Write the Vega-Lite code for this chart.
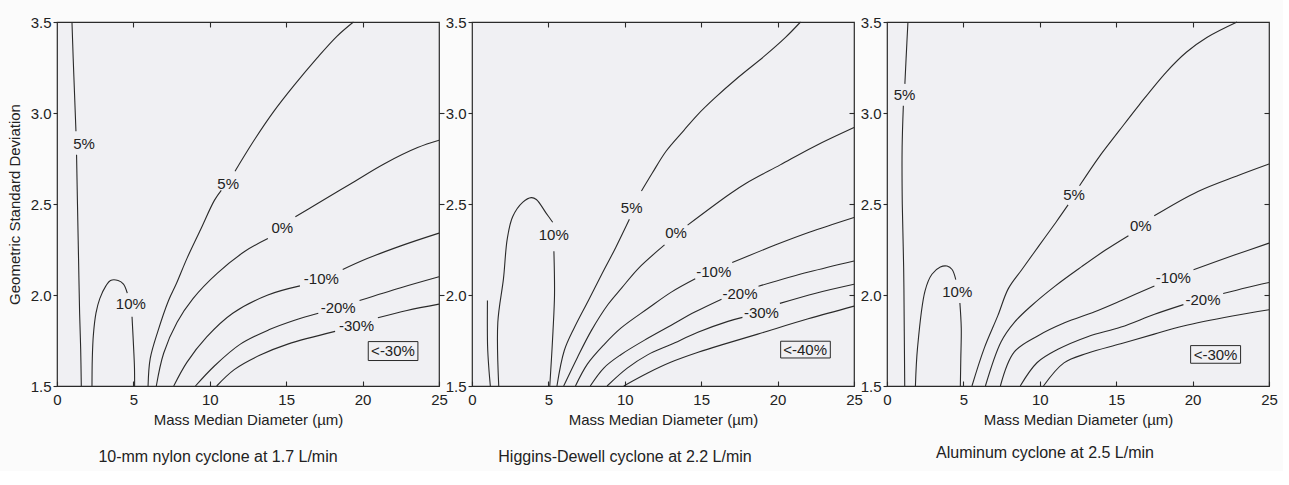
{
"$schema": "https://vega.github.io/schema/vega-lite/v6.json",
"background": "#fbfbfb",
"padding": {"left": 6, "top": 14, "right": 5, "bottom": 5},
"config": {
  "view": {"stroke": "#2a2a2a", "strokeWidth": 1.2, "fill": "#f0f0f3"},
  "font": "Liberation Sans",
  "axis": {"labelFont": "Liberation Sans", "titleFont": "Liberation Sans", "labelFontSize": 15, "titleFontSize": 15, "titleFontWeight": "normal", "labelColor": "#222", "titleColor": "#222", "tickColor": "#2a2a2a", "tickWidth": 1.1, "domain": false, "grid": false}
},
"datasets": {
"lines": [
{"p":1,"id":"5La","i":0,"x":0.98,"y":3.5},{"p":1,"id":"5La","i":1,"x":1.06,"y":3.3},{"p":1,"id":"5La","i":2,"x":1.15,"y":3.1},{"p":1,"id":"5La","i":3,"x":1.24,"y":2.9},
{"p":1,"id":"5Lb","i":0,"x":1.28,"y":2.77},{"p":1,"id":"5Lb","i":1,"x":1.34,"y":2.5},{"p":1,"id":"5Lb","i":2,"x":1.41,"y":2.2},{"p":1,"id":"5Lb","i":3,"x":1.48,"y":1.9},{"p":1,"id":"5Lb","i":4,"x":1.55,"y":1.7},{"p":1,"id":"5Lb","i":5,"x":1.59,"y":1.5},
{"p":1,"id":"10a","i":0,"x":2.29,"y":1.5},{"p":1,"id":"10a","i":1,"x":2.31,"y":1.65},{"p":1,"id":"10a","i":2,"x":2.38,"y":1.78},{"p":1,"id":"10a","i":3,"x":2.55,"y":1.9},{"p":1,"id":"10a","i":4,"x":2.8,"y":1.98},{"p":1,"id":"10a","i":5,"x":3.2,"y":2.05},{"p":1,"id":"10a","i":6,"x":3.5,"y":2.08},{"p":1,"id":"10a","i":7,"x":4.0,"y":2.08},{"p":1,"id":"10a","i":8,"x":4.35,"y":2.06},{"p":1,"id":"10a","i":9,"x":4.6,"y":2.01},
{"p":1,"id":"10b","i":0,"x":4.91,"y":1.88},{"p":1,"id":"10b","i":1,"x":5.02,"y":1.7},{"p":1,"id":"10b","i":2,"x":5.07,"y":1.6},{"p":1,"id":"10b","i":3,"x":5.08,"y":1.5},
{"p":1,"id":"5a","i":0,"x":5.96,"y":1.5},{"p":1,"id":"5a","i":1,"x":6.1,"y":1.65},{"p":1,"id":"5a","i":2,"x":6.6,"y":1.8},{"p":1,"id":"5a","i":3,"x":7.3,"y":1.97},{"p":1,"id":"5a","i":4,"x":7.8,"y":2.06},{"p":1,"id":"5a","i":5,"x":8.5,"y":2.2},{"p":1,"id":"5a","i":6,"x":9.4,"y":2.36},{"p":1,"id":"5a","i":7,"x":10.3,"y":2.52},{"p":1,"id":"5a","i":8,"x":10.75,"y":2.575},
{"p":1,"id":"5b","i":0,"x":11.65,"y":2.68},{"p":1,"id":"5b","i":1,"x":12.9,"y":2.85},{"p":1,"id":"5b","i":2,"x":14.2,"y":3.01},{"p":1,"id":"5b","i":3,"x":15.5,"y":3.15},{"p":1,"id":"5b","i":4,"x":17.0,"y":3.3},{"p":1,"id":"5b","i":5,"x":18.3,"y":3.42},{"p":1,"id":"5b","i":6,"x":19.4,"y":3.5},
{"p":1,"id":"0a","i":0,"x":6.5,"y":1.5},{"p":1,"id":"0a","i":1,"x":6.98,"y":1.68},{"p":1,"id":"0a","i":2,"x":7.86,"y":1.85},{"p":1,"id":"0a","i":3,"x":8.9,"y":1.98},{"p":1,"id":"0a","i":4,"x":10.5,"y":2.12},{"p":1,"id":"0a","i":5,"x":12.3,"y":2.24},{"p":1,"id":"0a","i":6,"x":13.8,"y":2.31},
{"p":1,"id":"0b","i":0,"x":15.6,"y":2.43},{"p":1,"id":"0b","i":1,"x":17.0,"y":2.5},{"p":1,"id":"0b","i":2,"x":19.2,"y":2.61},{"p":1,"id":"0b","i":3,"x":21.4,"y":2.72},{"p":1,"id":"0b","i":4,"x":23.6,"y":2.81},{"p":1,"id":"0b","i":5,"x":25,"y":2.85},
{"p":1,"id":"m10a","i":0,"x":7.64,"y":1.5},{"p":1,"id":"m10a","i":1,"x":8.5,"y":1.63},{"p":1,"id":"m10a","i":2,"x":9.8,"y":1.77},{"p":1,"id":"m10a","i":3,"x":11.5,"y":1.9},{"p":1,"id":"m10a","i":4,"x":13.8,"y":2.0},{"p":1,"id":"m10a","i":5,"x":15.9,"y":2.05},
{"p":1,"id":"m10b","i":0,"x":18.7,"y":2.14},{"p":1,"id":"m10b","i":1,"x":20.3,"y":2.2},{"p":1,"id":"m10b","i":2,"x":22.5,"y":2.27},{"p":1,"id":"m10b","i":3,"x":25,"y":2.34},
{"p":1,"id":"m20a","i":0,"x":9.06,"y":1.5},{"p":1,"id":"m20a","i":1,"x":10.3,"y":1.61},{"p":1,"id":"m20a","i":2,"x":12.0,"y":1.73},{"p":1,"id":"m20a","i":3,"x":13.9,"y":1.81},{"p":1,"id":"m20a","i":4,"x":15.5,"y":1.86},{"p":1,"id":"m20a","i":5,"x":17.1,"y":1.9},
{"p":1,"id":"m20b","i":0,"x":19.8,"y":1.97},{"p":1,"id":"m20b","i":1,"x":22.5,"y":2.04},{"p":1,"id":"m20b","i":2,"x":25,"y":2.1},
{"p":1,"id":"m30a","i":0,"x":10.45,"y":1.5},{"p":1,"id":"m30a","i":1,"x":11.6,"y":1.59},{"p":1,"id":"m30a","i":2,"x":13.3,"y":1.67},{"p":1,"id":"m30a","i":3,"x":15.1,"y":1.73},{"p":1,"id":"m30a","i":4,"x":18.2,"y":1.8},
{"p":1,"id":"m30b","i":0,"x":21.0,"y":1.875},{"p":1,"id":"m30b","i":1,"x":22.9,"y":1.915},{"p":1,"id":"m30b","i":2,"x":25,"y":1.95},

{"p":2,"id":"s","i":0,"x":1.01,"y":1.97},{"p":2,"id":"s","i":1,"x":1.02,"y":1.72},{"p":2,"id":"s","i":2,"x":1.1,"y":1.6},{"p":2,"id":"s","i":3,"x":1.2,"y":1.5},
{"p":2,"id":"10a","i":0,"x":1.75,"y":1.5},{"p":2,"id":"10a","i":1,"x":1.69,"y":1.85},{"p":2,"id":"10a","i":2,"x":2.06,"y":2.09},{"p":2,"id":"10a","i":3,"x":2.31,"y":2.31},{"p":2,"id":"10a","i":4,"x":2.66,"y":2.43},{"p":2,"id":"10a","i":5,"x":3.33,"y":2.51},{"p":2,"id":"10a","i":6,"x":3.88,"y":2.535},{"p":2,"id":"10a","i":7,"x":4.21,"y":2.525},{"p":2,"id":"10a","i":8,"x":4.85,"y":2.45},{"p":2,"id":"10a","i":9,"x":5.28,"y":2.4},
{"p":2,"id":"10b","i":0,"x":5.36,"y":2.24},{"p":2,"id":"10b","i":1,"x":5.4,"y":2.0},{"p":2,"id":"10b","i":2,"x":5.3,"y":1.8},{"p":2,"id":"10b","i":3,"x":5.2,"y":1.65},{"p":2,"id":"10b","i":4,"x":5.09,"y":1.5},
{"p":2,"id":"5a","i":0,"x":5.56,"y":1.5},{"p":2,"id":"5a","i":1,"x":6.04,"y":1.695},{"p":2,"id":"5a","i":2,"x":6.71,"y":1.823},{"p":2,"id":"5a","i":3,"x":7.61,"y":1.969},{"p":2,"id":"5a","i":4,"x":8.5,"y":2.115},{"p":2,"id":"5a","i":5,"x":9.4,"y":2.26},{"p":2,"id":"5a","i":6,"x":10.3,"y":2.416},
{"p":2,"id":"5b","i":0,"x":11.09,"y":2.571},{"p":2,"id":"5b","i":1,"x":11.8,"y":2.67},{"p":2,"id":"5b","i":2,"x":12.7,"y":2.79},{"p":2,"id":"5b","i":3,"x":13.87,"y":2.905},{"p":2,"id":"5b","i":4,"x":14.76,"y":2.99},{"p":2,"id":"5b","i":5,"x":15.86,"y":3.08},{"p":2,"id":"5b","i":6,"x":17.41,"y":3.195},{"p":2,"id":"5b","i":7,"x":19.17,"y":3.315},{"p":2,"id":"5b","i":8,"x":20.5,"y":3.414},{"p":2,"id":"5b","i":9,"x":21.5,"y":3.5},
{"p":2,"id":"0a","i":0,"x":6.0,"y":1.5},{"p":2,"id":"0a","i":1,"x":6.9,"y":1.657},{"p":2,"id":"0a","i":2,"x":7.8,"y":1.803},{"p":2,"id":"0a","i":3,"x":8.91,"y":1.949},{"p":2,"id":"0a","i":4,"x":9.8,"y":2.039},{"p":2,"id":"0a","i":5,"x":10.91,"y":2.148},{"p":2,"id":"0a","i":6,"x":12.6,"y":2.275},
{"p":2,"id":"0b","i":0,"x":14.11,"y":2.384},{"p":2,"id":"0b","i":1,"x":16.87,"y":2.555},{"p":2,"id":"0b","i":2,"x":17.97,"y":2.615},{"p":2,"id":"0b","i":3,"x":20.17,"y":2.715},{"p":2,"id":"0b","i":4,"x":22.37,"y":2.815},{"p":2,"id":"0b","i":5,"x":25,"y":2.92},
{"p":2,"id":"m10a","i":0,"x":6.77,"y":1.5},{"p":2,"id":"m10a","i":1,"x":7.55,"y":1.62},{"p":2,"id":"m10a","i":2,"x":8.66,"y":1.729},{"p":2,"id":"m10a","i":3,"x":9.76,"y":1.819},{"p":2,"id":"m10a","i":4,"x":11.53,"y":1.927},{"p":2,"id":"m10a","i":5,"x":13.07,"y":2.017},{"p":2,"id":"m10a","i":6,"x":14.61,"y":2.089},
{"p":2,"id":"m10b","i":0,"x":17.03,"y":2.178},{"p":2,"id":"m10b","i":1,"x":19.88,"y":2.276},{"p":2,"id":"m10b","i":2,"x":22.07,"y":2.345},{"p":2,"id":"m10b","i":3,"x":25,"y":2.426},
{"p":2,"id":"m20a","i":0,"x":7.74,"y":1.5},{"p":2,"id":"m20a","i":1,"x":8.64,"y":1.6},{"p":2,"id":"m20a","i":2,"x":9.74,"y":1.672},{"p":2,"id":"m20a","i":3,"x":11.5,"y":1.762},{"p":2,"id":"m20a","i":4,"x":13.04,"y":1.834},{"p":2,"id":"m20a","i":5,"x":14.58,"y":1.906},{"p":2,"id":"m20a","i":6,"x":16.33,"y":1.977},
{"p":2,"id":"m20b","i":0,"x":18.75,"y":2.048},{"p":2,"id":"m20b","i":1,"x":22.03,"y":2.126},{"p":2,"id":"m20b","i":2,"x":25,"y":2.187},
{"p":2,"id":"m30a","i":0,"x":8.84,"y":1.5},{"p":2,"id":"m30a","i":1,"x":10.16,"y":1.598},{"p":2,"id":"m30a","i":2,"x":11.49,"y":1.671},{"p":2,"id":"m30a","i":3,"x":13.02,"y":1.728},{"p":2,"id":"m30a","i":4,"x":14.78,"y":1.795},{"p":2,"id":"m30a","i":5,"x":16.75,"y":1.855},{"p":2,"id":"m30a","i":6,"x":17.7,"y":1.877},
{"p":2,"id":"m30b","i":0,"x":20.15,"y":1.954},{"p":2,"id":"m30b","i":1,"x":22.5,"y":2.01},{"p":2,"id":"m30b","i":2,"x":25,"y":2.059},
{"p":2,"id":"m40","i":0,"x":9.93,"y":1.5},{"p":2,"id":"m40","i":1,"x":11.47,"y":1.57},{"p":2,"id":"m40","i":2,"x":13.0,"y":1.63},{"p":2,"id":"m40","i":3,"x":14.8,"y":1.685},{"p":2,"id":"m40","i":4,"x":16.5,"y":1.73},{"p":2,"id":"m40","i":5,"x":18.7,"y":1.785},{"p":2,"id":"m40","i":6,"x":22.0,"y":1.869},{"p":2,"id":"m40","i":7,"x":25,"y":1.939},

{"p":3,"id":"5La","i":0,"x":1.37,"y":3.5},{"p":3,"id":"5La","i":1,"x":1.25,"y":3.3},{"p":3,"id":"5La","i":2,"x":1.17,"y":3.16},
{"p":3,"id":"5Lb","i":0,"x":1.07,"y":3.04},{"p":3,"id":"5Lb","i":1,"x":0.99,"y":2.81},{"p":3,"id":"5Lb","i":2,"x":1.0,"y":2.5},{"p":3,"id":"5Lb","i":3,"x":1.09,"y":2.15},{"p":3,"id":"5Lb","i":4,"x":1.13,"y":1.8},{"p":3,"id":"5Lb","i":5,"x":1.16,"y":1.5},
{"p":3,"id":"10a","i":0,"x":1.86,"y":1.5},{"p":3,"id":"10a","i":1,"x":2.0,"y":1.712},{"p":3,"id":"10a","i":2,"x":2.49,"y":2.023},{"p":3,"id":"10a","i":3,"x":2.94,"y":2.114},{"p":3,"id":"10a","i":4,"x":3.49,"y":2.154},{"p":3,"id":"10a","i":5,"x":3.93,"y":2.159},{"p":3,"id":"10a","i":6,"x":4.26,"y":2.14},{"p":3,"id":"10a","i":7,"x":4.5,"y":2.085},
{"p":3,"id":"10b","i":0,"x":4.77,"y":1.956},{"p":3,"id":"10b","i":1,"x":4.86,"y":1.818},{"p":3,"id":"10b","i":2,"x":4.83,"y":1.65},{"p":3,"id":"10b","i":3,"x":4.8,"y":1.5},
{"p":3,"id":"5a","i":0,"x":5.56,"y":1.5},{"p":3,"id":"5a","i":1,"x":6.36,"y":1.707},{"p":3,"id":"5a","i":2,"x":7.26,"y":1.888},{"p":3,"id":"5a","i":3,"x":7.94,"y":2.035},{"p":3,"id":"5a","i":4,"x":8.83,"y":2.14},{"p":3,"id":"5a","i":5,"x":9.94,"y":2.27},{"p":3,"id":"5a","i":6,"x":11.06,"y":2.4},{"p":3,"id":"5a","i":7,"x":11.85,"y":2.495},
{"p":3,"id":"5b","i":0,"x":12.6,"y":2.6},{"p":3,"id":"5b","i":1,"x":13.85,"y":2.755},{"p":3,"id":"5b","i":2,"x":15.17,"y":2.9},{"p":3,"id":"5b","i":3,"x":16.51,"y":3.045},{"p":3,"id":"5b","i":4,"x":18.28,"y":3.225},{"p":3,"id":"5b","i":5,"x":19.61,"y":3.335},{"p":3,"id":"5b","i":6,"x":20.93,"y":3.415},{"p":3,"id":"5b","i":7,"x":22.91,"y":3.5},
{"p":3,"id":"0a","i":0,"x":6.44,"y":1.5},{"p":3,"id":"0a","i":1,"x":7.46,"y":1.742},{"p":3,"id":"0a","i":2,"x":8.35,"y":1.851},{"p":3,"id":"0a","i":3,"x":9.45,"y":1.941},{"p":3,"id":"0a","i":4,"x":11.0,"y":2.049},{"p":3,"id":"0a","i":5,"x":12.76,"y":2.157},{"p":3,"id":"0a","i":6,"x":14.3,"y":2.247},{"p":3,"id":"0a","i":7,"x":15.8,"y":2.326},
{"p":3,"id":"0b","i":0,"x":17.49,"y":2.435},{"p":3,"id":"0b","i":1,"x":20.35,"y":2.569},{"p":3,"id":"0b","i":2,"x":22.98,"y":2.657},{"p":3,"id":"0b","i":3,"x":25,"y":2.72},
{"p":3,"id":"m10a","i":0,"x":7.42,"y":1.5},{"p":3,"id":"m10a","i":1,"x":8.32,"y":1.686},{"p":3,"id":"m10a","i":2,"x":9.86,"y":1.775},{"p":3,"id":"m10a","i":3,"x":11.62,"y":1.847},{"p":3,"id":"m10a","i":4,"x":13.59,"y":1.908},{"p":3,"id":"m10a","i":5,"x":15.34,"y":1.97},{"p":3,"id":"m10a","i":6,"x":17.5,"y":2.05},
{"p":3,"id":"m10b","i":0,"x":20.06,"y":2.139},{"p":3,"id":"m10b","i":1,"x":22.69,"y":2.218},{"p":3,"id":"m10b","i":2,"x":25,"y":2.285},
{"p":3,"id":"m20a","i":0,"x":8.72,"y":1.5},{"p":3,"id":"m20a","i":1,"x":9.83,"y":1.629},{"p":3,"id":"m20a","i":2,"x":11.15,"y":1.7},{"p":3,"id":"m20a","i":3,"x":13.13,"y":1.771},{"p":3,"id":"m20a","i":4,"x":15.32,"y":1.824},{"p":3,"id":"m20a","i":5,"x":17.51,"y":1.894},{"p":3,"id":"m20a","i":6,"x":19.4,"y":1.947},
{"p":3,"id":"m20b","i":0,"x":22.0,"y":2.008},{"p":3,"id":"m20b","i":1,"x":23.5,"y":2.04},{"p":3,"id":"m20b","i":2,"x":25,"y":2.069},
{"p":3,"id":"m30","i":0,"x":10.24,"y":1.5},{"p":3,"id":"m30","i":1,"x":11.58,"y":1.627},{"p":3,"id":"m30","i":2,"x":13.11,"y":1.68},{"p":3,"id":"m30","i":3,"x":15.3,"y":1.732},{"p":3,"id":"m30","i":4,"x":17.49,"y":1.785},{"p":3,"id":"m30","i":5,"x":19.4,"y":1.83},{"p":3,"id":"m30","i":6,"x":22.6,"y":1.885},{"p":3,"id":"m30","i":7,"x":25,"y":1.919}
],
"labels": [
{"p":1,"x":1.77,"y":2.83,"t":"5%"},{"p":1,"x":4.83,"y":1.95,"t":"10%"},{"p":1,"x":11.2,"y":2.61,"t":"5%"},{"p":1,"x":14.74,"y":2.37,"t":"0%"},{"p":1,"x":17.3,"y":2.09,"t":"-10%"},{"p":1,"x":18.4,"y":1.93,"t":"-20%"},{"p":1,"x":19.6,"y":1.83,"t":"-30%"},
{"p":2,"x":5.35,"y":2.33,"t":"10%"},{"p":2,"x":10.45,"y":2.48,"t":"5%"},{"p":2,"x":13.35,"y":2.34,"t":"0%"},{"p":2,"x":15.82,"y":2.124,"t":"-10%"},{"p":2,"x":17.54,"y":2.003,"t":"-20%"},{"p":2,"x":18.94,"y":1.9,"t":"-30%"},
{"p":3,"x":1.15,"y":3.1,"t":"5%"},{"p":3,"x":4.6,"y":2.016,"t":"10%"},{"p":3,"x":12.24,"y":2.551,"t":"5%"},{"p":3,"x":16.61,"y":2.381,"t":"0%"},{"p":3,"x":18.74,"y":2.091,"t":"-10%"},{"p":3,"x":20.68,"y":1.973,"t":"-20%"}
],
"boxes": [
{"p":1,"x1":20.37,"x2":23.62,"y1":1.64,"y2":1.744,"xc":21.99,"yc":1.69,"t":"<-30%"},
{"p":2,"x1":20.2,"x2":23.45,"y1":1.654,"y2":1.746,"xc":21.8,"yc":1.7,"t":"<-40%"},
{"p":3,"x1":19.87,"x2":23.14,"y1":1.625,"y2":1.722,"xc":21.5,"yc":1.673,"t":"<-30%"}
]
},
"bounds": "flush",
"spacing": 33,
"hconcat": [
{
 "width": 382, "height": 364,
 "title": {"text": "10-mm nylon cyclone at 1.7 L/min", "orient": "bottom", "anchor": "middle", "dx": -30, "offset": 22, "fontSize": 16, "fontWeight": "normal", "font": "Liberation Sans", "color": "#222"},
 "layer": [
  {"data": {"name": "lines"}, "transform": [{"filter": "datum.p == 1"}],
   "mark": {"type": "line", "interpolate": "catmull-rom", "stroke": "#2a2a2a", "strokeWidth": 1.1},
   "encoding": {
    "x": {"field": "x", "type": "quantitative", "scale": {"domain": [0, 25], "nice": false, "zero": false}, "axis": {"orient": "bottom", "values": [0, 5, 10, 15, 20, 25], "format": "d", "tickSize": -5, "labelPadding": 11, "labelFlush": false, "title": "Mass Median Diameter (µm)", "titlePadding": 5}},
    "y": {"field": "y", "type": "quantitative", "scale": {"domain": [1.5, 3.5], "nice": false, "zero": false}, "axis": {"orient": "left", "values": [1.5, 2, 2.5, 3, 3.5], "format": ".1f", "tickSize": 4, "labelPadding": 2, "title": "Geometric Standard Deviation", "titlePadding": 8}},
    "detail": {"field": "id"}, "order": {"field": "i"}}},
  {"data": {"name": "labels"}, "transform": [{"filter": "datum.p == 1"}],
   "mark": {"type": "text", "fontSize": 15, "font": "Liberation Sans", "color": "#222", "baseline": "middle", "align": "center"},
   "encoding": {
    "x": {"field": "x", "type": "quantitative", "scale": {"domain": [0, 25], "nice": false, "zero": false}, "axis": {"orient": "top", "values": [5, 10, 15, 20], "tickSize": -5, "labels": false, "title": null}},
    "y": {"field": "y", "type": "quantitative", "scale": {"domain": [1.5, 3.5], "nice": false, "zero": false}, "axis": {"orient": "right", "values": [2, 2.5, 3], "tickSize": 5, "labels": false, "title": null}},
    "text": {"field": "t"}}},
  {"data": {"name": "boxes"}, "transform": [{"filter": "datum.p == 1"}],
   "mark": {"type": "rect", "fill": "white", "fillOpacity": 0, "stroke": "#2a2a2a", "strokeWidth": 1},
   "encoding": {"x": {"field": "x1", "type": "quantitative", "axis": null}, "x2": {"field": "x2"}, "y": {"field": "y1", "type": "quantitative", "axis": null}, "y2": {"field": "y2"}}},
  {"data": {"name": "boxes"}, "transform": [{"filter": "datum.p == 1"}],
   "mark": {"type": "text", "fontSize": 15, "font": "Liberation Sans", "color": "#222", "baseline": "middle", "align": "center"},
   "encoding": {"x": {"field": "xc", "type": "quantitative", "axis": null}, "y": {"field": "yc", "type": "quantitative", "axis": null}, "text": {"field": "t"}}}
 ],
 "resolve": {"axis": {"x": "independent", "y": "independent"}}
},
{
 "width": 382, "height": 364,
 "title": {"text": "Higgins-Dewell cyclone at 2.2 L/min", "orient": "bottom", "anchor": "middle", "dx": -38, "offset": 22, "fontSize": 16, "fontWeight": "normal", "font": "Liberation Sans", "color": "#222"},
 "layer": [
  {"data": {"name": "lines"}, "transform": [{"filter": "datum.p == 2"}],
   "mark": {"type": "line", "interpolate": "catmull-rom", "stroke": "#2a2a2a", "strokeWidth": 1.1},
   "encoding": {
    "x": {"field": "x", "type": "quantitative", "scale": {"domain": [0, 25], "nice": false, "zero": false}, "axis": {"orient": "bottom", "values": [0, 5, 10, 15, 20, 25], "format": "d", "tickSize": -5, "labelPadding": 11, "labelFlush": false, "title": "Mass Median Diameter (µm)", "titlePadding": 5}},
    "y": {"field": "y", "type": "quantitative", "scale": {"domain": [1.5, 3.5], "nice": false, "zero": false}, "axis": {"orient": "left", "values": [1.5, 2, 2.5, 3, 3.5], "format": ".1f", "tickSize": 4, "labelPadding": 2, "title": null}},
    "detail": {"field": "id"}, "order": {"field": "i"}}},
  {"data": {"name": "labels"}, "transform": [{"filter": "datum.p == 2"}],
   "mark": {"type": "text", "fontSize": 15, "font": "Liberation Sans", "color": "#222", "baseline": "middle", "align": "center"},
   "encoding": {
    "x": {"field": "x", "type": "quantitative", "scale": {"domain": [0, 25], "nice": false, "zero": false}, "axis": {"orient": "top", "values": [5, 10, 15, 20], "tickSize": -5, "labels": false, "title": null}},
    "y": {"field": "y", "type": "quantitative", "scale": {"domain": [1.5, 3.5], "nice": false, "zero": false}, "axis": {"orient": "right", "values": [2, 2.5, 3], "tickSize": -5, "labels": false, "title": null}},
    "text": {"field": "t"}}},
  {"data": {"name": "boxes"}, "transform": [{"filter": "datum.p == 2"}],
   "mark": {"type": "rect", "fill": "white", "fillOpacity": 0, "stroke": "#2a2a2a", "strokeWidth": 1},
   "encoding": {"x": {"field": "x1", "type": "quantitative", "axis": null}, "x2": {"field": "x2"}, "y": {"field": "y1", "type": "quantitative", "axis": null}, "y2": {"field": "y2"}}},
  {"data": {"name": "boxes"}, "transform": [{"filter": "datum.p == 2"}],
   "mark": {"type": "text", "fontSize": 15, "font": "Liberation Sans", "color": "#222", "baseline": "middle", "align": "center"},
   "encoding": {"x": {"field": "xc", "type": "quantitative", "axis": null}, "y": {"field": "yc", "type": "quantitative", "axis": null}, "text": {"field": "t"}}}
 ],
 "resolve": {"axis": {"x": "independent", "y": "independent"}}
},
{
 "width": 382, "height": 364,
 "title": {"text": "Aluminum cyclone at 2.5 L/min", "orient": "bottom", "anchor": "middle", "dx": -33, "offset": 18, "fontSize": 16, "fontWeight": "normal", "font": "Liberation Sans", "color": "#222"},
 "layer": [
  {"data": {"name": "lines"}, "transform": [{"filter": "datum.p == 3"}],
   "mark": {"type": "line", "interpolate": "catmull-rom", "stroke": "#2a2a2a", "strokeWidth": 1.1},
   "encoding": {
    "x": {"field": "x", "type": "quantitative", "scale": {"domain": [0, 25], "nice": false, "zero": false}, "axis": {"orient": "bottom", "values": [0, 5, 10, 15, 20, 25], "format": "d", "tickSize": -5, "labelPadding": 11, "labelFlush": false, "title": "Mass Median Diameter (µm)", "titlePadding": 5}},
    "y": {"field": "y", "type": "quantitative", "scale": {"domain": [1.5, 3.5], "nice": false, "zero": false}, "axis": {"orient": "left", "values": [1.5, 2, 2.5, 3, 3.5], "format": ".1f", "tickSize": 4, "labelPadding": 2, "title": null}},
    "detail": {"field": "id"}, "order": {"field": "i"}}},
  {"data": {"name": "labels"}, "transform": [{"filter": "datum.p == 3"}],
   "mark": {"type": "text", "fontSize": 15, "font": "Liberation Sans", "color": "#222", "baseline": "middle", "align": "center"},
   "encoding": {
    "x": {"field": "x", "type": "quantitative", "scale": {"domain": [0, 25], "nice": false, "zero": false}, "axis": {"orient": "top", "values": [5, 10, 15, 20], "tickSize": -5, "labels": false, "title": null}},
    "y": {"field": "y", "type": "quantitative", "scale": {"domain": [1.5, 3.5], "nice": false, "zero": false}, "axis": {"orient": "right", "values": [2, 2.5, 3], "tickSize": -5, "labels": false, "title": null}},
    "text": {"field": "t"}}},
  {"data": {"name": "boxes"}, "transform": [{"filter": "datum.p == 3"}],
   "mark": {"type": "rect", "fill": "white", "fillOpacity": 0, "stroke": "#2a2a2a", "strokeWidth": 1},
   "encoding": {"x": {"field": "x1", "type": "quantitative", "axis": null}, "x2": {"field": "x2"}, "y": {"field": "y1", "type": "quantitative", "axis": null}, "y2": {"field": "y2"}}},
  {"data": {"name": "boxes"}, "transform": [{"filter": "datum.p == 3"}],
   "mark": {"type": "text", "fontSize": 15, "font": "Liberation Sans", "color": "#222", "baseline": "middle", "align": "center"},
   "encoding": {"x": {"field": "xc", "type": "quantitative", "axis": null}, "y": {"field": "yc", "type": "quantitative", "axis": null}, "text": {"field": "t"}}}
 ],
 "resolve": {"axis": {"x": "independent", "y": "independent"}}
}
]
}
